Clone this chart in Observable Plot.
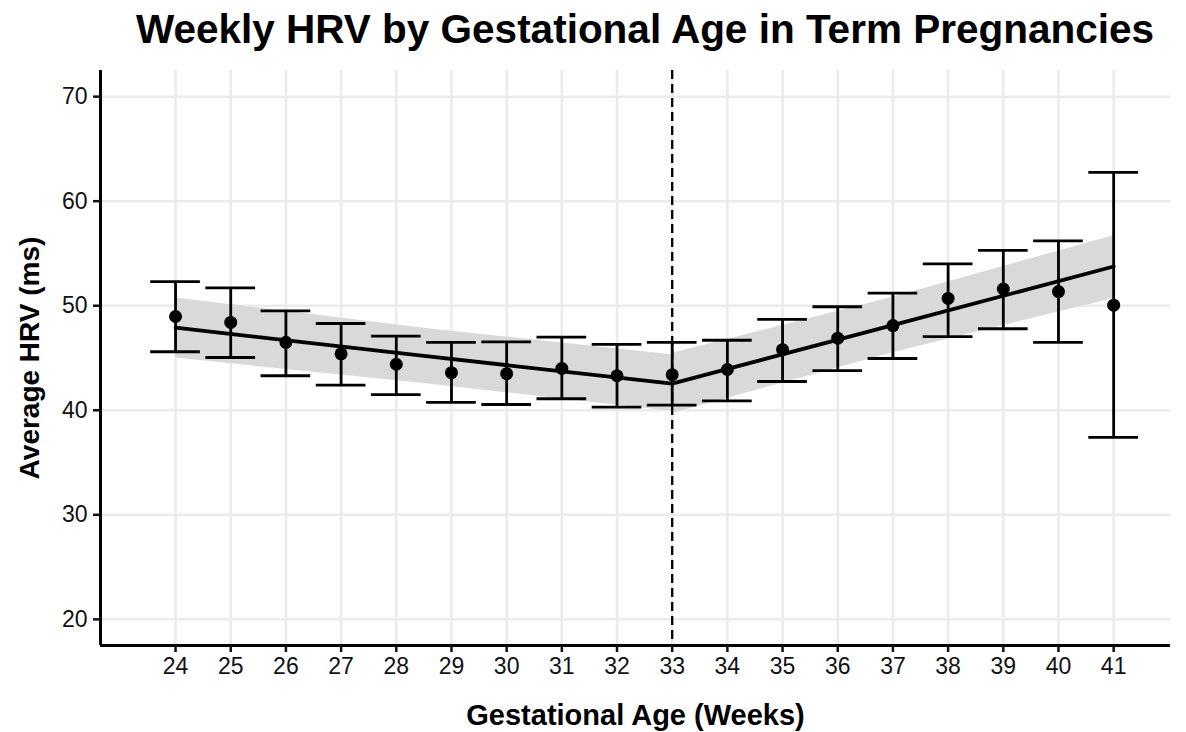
<!DOCTYPE html>
<html>
<head>
<meta charset="utf-8">
<script src="https://cdn.jsdelivr.net/npm/d3@7"></script>
<script src="https://cdn.jsdelivr.net/npm/@observablehq/plot@0.6"></script>
<style>
  html, body { margin: 0; padding: 0; background: #fff; }
  #title { width: 1186px; height: 60px; box-sizing: border-box; padding-left: 104px; text-align: center;
           font-family: "Liberation Sans", Arial, Helvetica, sans-serif; font-weight: bold; font-size: 40.5px;
           line-height: 58px; color: #000; white-space: nowrap; }
  svg { display: block; }
</style>
</head>
<body>
<div id="title">Weekly HRV by Gestational Age in Term Pregnancies</div>
<div id="chart"></div>
<script>
// Weekly observations
const weeks   = [24, 25, 26, 27, 28, 29, 30, 31, 32, 33, 34, 35, 36, 37, 38, 39, 40, 41];
const meanHRV = [48.97, 48.4, 46.5, 45.4, 44.4, 43.6, 43.5, 44.0, 43.3, 43.4, 43.9, 45.8, 46.9, 48.1, 50.7, 51.6, 51.35, 50.05];
const lowerCI = [45.6, 45.05, 43.3, 42.4, 41.5, 40.75, 40.55, 41.1, 40.3, 40.5, 40.9, 42.75, 43.8, 44.95, 47.05, 47.8, 46.5, 37.4];
const upperCI = [52.3, 51.7, 49.5, 48.3, 47.1, 46.5, 46.55, 47.0, 46.3, 46.5, 46.7, 48.7, 49.9, 51.2, 54.0, 55.3, 56.2, 62.75];

// Piecewise fit (segment, week, fit, lower, upper)
const fitSegment = [1, 1, 1, 2, 2, 2];
const fitWeek    = [24, 28.5, 33, 33, 37, 41];
const fitValue   = [47.9, 45.2, 42.55, 42.55, 48.15, 53.75];
const fitLower   = [45.0, 42.55, 39.9, 39.7, 45.5, 50.7];
const fitUpper   = [50.75, 47.85, 45.3, 45.45, 50.8, 56.7];

const breakWeek = 33;
const xTicks = weeks;
const yTicks = [20, 30, 40, 50, 60, 70];
const xDomain = [22.64, 42.03];
const yDomain = [17.5, 72.5];
const xTitle = "Gestational Age (Weeks)";
const yTitle = "Average HRV (ms)";

const obs = weeks.map((w, i) => ({week: w, mean: meanHRV[i], lo: lowerCI[i], hi: upperCI[i]}));
const fit = fitWeek.map((w, i) => ({seg: fitSegment[i], week: w, fit: fitValue[i], lo: fitLower[i], hi: fitUpper[i]}));

const capHalf = 0.45;
const font = "Liberation Sans, Arial, Helvetica, sans-serif";

const plot = Plot.plot({
  width: 1186,
  height: 672,
  marginTop: 10,
  marginBottom: 87,
  marginLeft: 100,
  marginRight: 16,
  style: {fontFamily: font, color: "#111", background: "#fff"},
  x: {domain: xDomain, ticks: xTicks},
  y: {domain: yDomain, ticks: yTicks},
  marks: [
    Plot.gridX(xTicks, {stroke: "#ebebeb", strokeOpacity: 1, strokeWidth: 2.5}),
    Plot.gridY(yTicks, {stroke: "#ebebeb", strokeOpacity: 1, strokeWidth: 2.5}),
    Plot.areaY(fit, {x: "week", y1: "lo", y2: "hi", z: "seg", fill: "#d9d9d9", fillOpacity: 1}),
    Plot.ruleX([breakWeek], {stroke: "#000", strokeWidth: 2.3, strokeDasharray: "9,5"}),
    Plot.line(fit, {x: "week", y: "fit", z: "seg", stroke: "#000", strokeWidth: 3.8}),
    Plot.ruleX(obs, {x: "week", y1: "lo", y2: "hi", stroke: "#000", strokeWidth: 2.8}),
    Plot.ruleY(obs, {y: "lo", x1: d => d.week - capHalf, x2: d => d.week + capHalf, stroke: "#000", strokeWidth: 2.8}),
    Plot.ruleY(obs, {y: "hi", x1: d => d.week - capHalf, x2: d => d.week + capHalf, stroke: "#000", strokeWidth: 2.8}),
    Plot.dot(obs, {x: "week", y: "mean", r: 6.5, fill: "#000", stroke: "none"}),
    Plot.ruleX([xDomain[0]], {stroke: "#000", strokeWidth: 3}),
    Plot.ruleY([yDomain[0]], {stroke: "#000", strokeWidth: 3}),
    Plot.axisX(xTicks, {tickSize: 7, strokeWidth: 2.5, tickFormat: () => "", label: null}),
    Plot.axisY(yTicks, {tickSize: 7, strokeWidth: 2.5, tickFormat: () => "", label: null}),
    Plot.text(xTicks, {x: d => d, frameAnchor: "bottom", dy: 21, lineAnchor: "middle", textAnchor: "middle", text: d => String(d), fontSize: 23, fill: "#111"}),
    Plot.text(yTicks, {y: d => d, frameAnchor: "left", dx: -13, lineAnchor: "middle", textAnchor: "end", text: d => String(d), fontSize: 23, fill: "#111"}),
    Plot.text([xTitle], {frameAnchor: "bottom", dy: 70, lineAnchor: "middle", textAnchor: "middle", text: d => d, fontSize: 29, fontWeight: "bold", fill: "#000"}),
    Plot.text([yTitle], {frameAnchor: "left", dx: -70, rotate: -90, textAnchor: "middle", lineAnchor: "middle", text: d => d, fontSize: 28, fontWeight: "bold", fill: "#000"})
  ]
});
document.getElementById("chart").appendChild(plot);
</script>
</body>
</html>
